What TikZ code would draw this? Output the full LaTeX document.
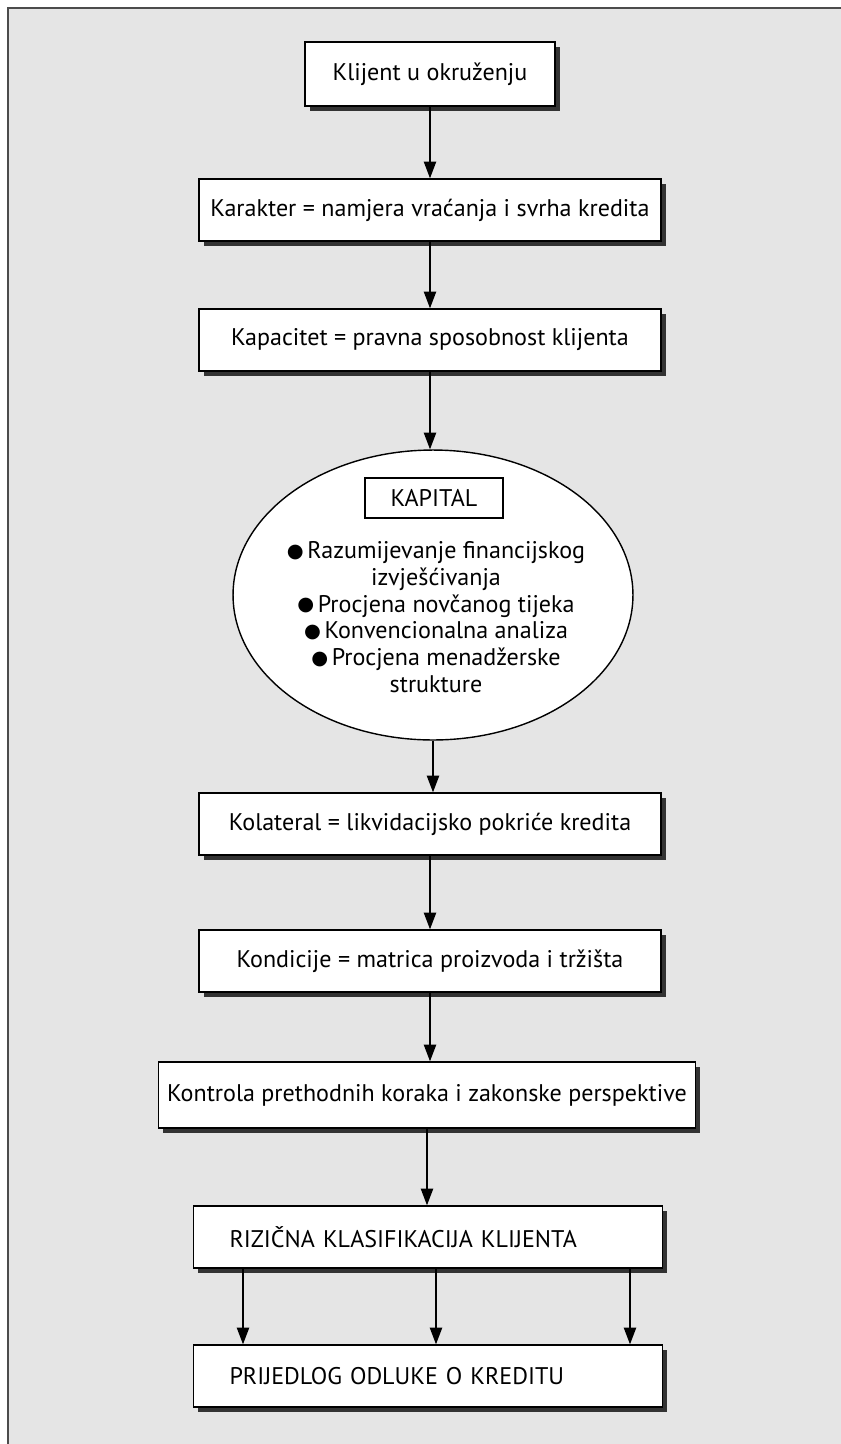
\documentclass[tikz,border=0pt]{standalone}
\usepackage{fontspec}
\setmainfont{PT Sans}
\newfontfamily\symfont{DejaVu Sans}
\usetikzlibrary{shapes.geometric,arrows.meta,shadows}

\newcommand{\bul}{\raisebox{0.12ex}{\symfont\fontsize{11}{11}\selectfont ●}\hspace{0.15em}}

\begin{document}
\begin{tikzpicture}[
    x=0.02cm, y=-0.02cm,
    every node/.style={font=\fontsize{13.7}{15.2}\selectfont},
    stepbox/.style={draw, line width=0.8pt, fill=white, align=center,
        minimum width=9.24cm, minimum height=1.24cm,
        drop shadow={shadow xshift=2.6pt, shadow yshift=-2.6pt,
            fill=black!80, opacity=1}},
    leftbox/.style={stepbox, align=left, text width=7.94cm,
        inner xsep=0.72cm},
    flow/.style={line width=0.8pt, -{Triangle[length=9.5pt,width=7pt]}}
]

% Page and frame
\useasboundingbox (0,0) rectangle (841,1444);
\fill[white] (0,0) rectangle (841,1444);
\fill[black!10] (8,8) rectangle (841,1444);
\draw[line width=0.6pt, black!70] (8,1444) -- (8,8) -- (841,8);

% Steps
\node[stepbox, minimum width=5cm, minimum height=1.28cm] (klijent) at (430,74) {Klijent u okruženju};
\node[stepbox] (karakter) at (430,210) {Karakter = namjera vraćanja i svrha kredita};
\node[stepbox] (kapacitet) at (430,340) {Kapacitet = pravna sposobnost klijenta};

% Capital ellipse
\node[draw, ellipse, line width=0.8pt, fill=white,
      minimum width=8cm, minimum height=5.8cm] (kapital) at (433,595) {};
\node[draw, line width=0.8pt, minimum width=2.76cm, minimum height=0.8cm] (kaptitle) at (434,498) {KAPITAL};
\node[align=center] (kaptxt) at (436,617) {
    \bul Razumijevanje financijskog\\
    izvješćivanja\\
    \bul Procjena novčanog tijeka\\
    \bul Konvencionalna analiza\\
    \bul Procjena menadžerske\\
    strukture
};

\node[stepbox] (kolateral) at (430,824) {Kolateral = likvidacijsko pokriće kredita};
\node[stepbox] (kondicije) at (430,961) {Kondicije = matrica proizvoda i tržišta};
\node[stepbox, minimum width=10.74cm, minimum height=1.32cm] (kontrola) at (427,1095) {Kontrola prethodnih koraka i zakonske perspektive};

% Classification and proposal
\node[leftbox] (rizik) at (428,1237) {RIZIČNA KLASIFIKACIJA KLIJENTA};
\node[leftbox] (odluka) at (428,1376) {PRIJEDLOG ODLUKE O KREDITU};

% Connectors
\draw[flow] (klijent.south) -- (klijent.south |- karakter.north);
\draw[flow] (karakter.south) -- (karakter.south |- kapacitet.north);
\draw[flow] (kapacitet.south) -- (kapacitet.south |- kapital.north);
\draw[flow] (kapital.south) -- (kapital.south |- kolateral.north);
\draw[flow] (kolateral.south) -- (kolateral.south |- kondicije.north);
\draw[flow] (kondicije.south) -- (kondicije.south |- kontrola.north);
\draw[flow] (kontrola.south) -- (kontrola.south |- rizik.north);

% Three arrows to the proposal
\coordinate (c1) at (243,0);
\coordinate (c2) at (436,0);
\coordinate (c3) at (630,0);
\foreach \c in {c1,c2,c3} {
    \draw[flow] (rizik.south -| \c) -- (odluka.north -| \c);
}

\end{tikzpicture}
\end{document}
